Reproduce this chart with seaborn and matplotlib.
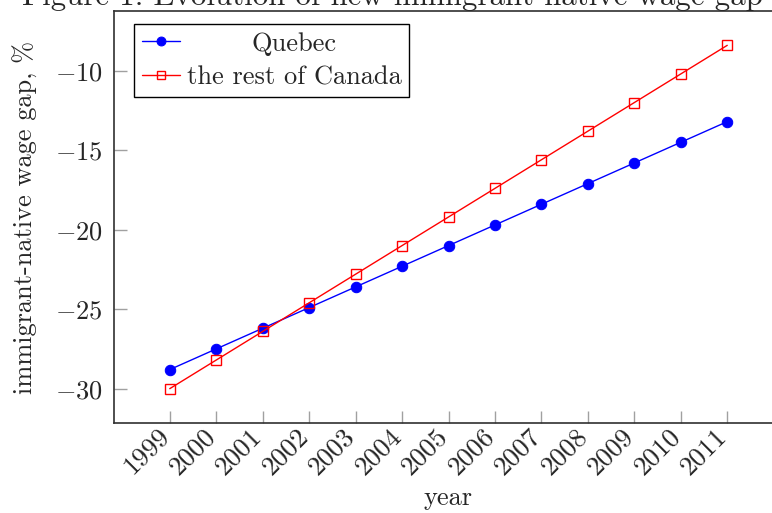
import matplotlib
matplotlib.use("Agg")
import matplotlib.pyplot as plt
import matplotlib.transforms as mtrans
import seaborn as sns
import pandas as pd

# Wage gap series, in percent
years = [1999, 2000, 2001, 2002, 2003, 2004, 2005, 2006, 2007, 2008, 2009, 2010, 2011]
quebec = [-28.8, -27.5, -26.2, -24.9, -23.6, -22.3, -21.0, -19.7, -18.4, -17.1, -15.8, -14.5, -13.2]
rest_of_canada = [-30.0, -28.2, -26.4, -24.6, -22.8, -21.0, -19.2, -17.4, -15.6, -13.8, -12.0, -10.2, -8.4]
series_names = ["Quebec", "the rest of Canada"]
y_ticks = [-30, -25, -20, -15, -10]
title_text = "Figure 1: Evolution of new immigrant-native wage gap"

sns.set_style("ticks")
plt.rcParams["font.family"] = ["cmr10"]
plt.rcParams["mathtext.fontset"] = "cm"
plt.rcParams["axes.unicode_minus"] = False

FS = 19
W, H = 772, 513
fig = plt.figure(figsize=(W / 100, H / 100), dpi=100)
left, right, bottom, top = 114 / W, 783 / W, (H - 423) / H, (H - 11) / H
ax = fig.add_axes([left, bottom, right - left, top - bottom])

df_q = pd.DataFrame({"year": years, "gap": quebec})
df_r = pd.DataFrame({"year": years, "gap": rest_of_canada})

sns.lineplot(data=df_q, x="year", y="gap", ax=ax, color="blue", lw=1.0,
             marker="o", markersize=7.5, markerfacecolor="blue",
             markeredgecolor="blue", label=series_names[0])
sns.lineplot(data=df_r, x="year", y="gap", ax=ax, color="red", lw=1.0,
             marker="s", markersize=7.5, markerfacecolor="none",
             markeredgecolor="red", markeredgewidth=1.0, label=series_names[1])

# pgfplots-style enlarged limits (10% of the data range)
span_x = years[-1] - years[0]
ax.set_xlim(years[0] - 0.1 * span_x, years[-1] + 0.1 * span_x)
lo = min(quebec + rest_of_canada)
hi = max(quebec + rest_of_canada)
ax.set_ylim(lo - 0.1 * (hi - lo), hi + 0.1 * (hi - lo))

ax.set_xticks(years)
ax.set_xticklabels([str(y) for y in years], rotation=45, ha="right",
                   va="center", rotation_mode="anchor", fontsize=FS + 0.5)
ax.set_yticks(y_ticks)
ax.set_yticklabels([f"${v}$" for v in y_ticks], fontsize=FS)

ax.tick_params(axis="both", direction="in", length=9, width=1.0,
               color="#a0a0a0")
ax.tick_params(axis="y", pad=8)
ax.tick_params(axis="x", pad=6.5)
for s in ax.spines.values():
    s.set_color("#303030")
    s.set_linewidth(1.2)

# nudge the rotated year labels slightly left of their ticks
nudge = mtrans.ScaledTranslation(-4.5 / 100, 0, fig.dpi_scale_trans)
for lbl in ax.get_xticklabels():
    lbl.set_transform(lbl.get_transform() + nudge)

ax.set_xlabel("year", fontsize=FS)
ax.xaxis.set_label_coords(0.5, -(486 - 423) / (423 - 11))
ax.set_ylabel("immigrant-native wage gap, %", fontsize=FS, labelpad=12)

fig.text(392 / W, (H - 5) / H, title_text, ha="center", va="baseline",
         fontsize=22.2)

leg = ax.legend(loc="upper left",
                bbox_to_anchor=((134 - 114) / (783 - 114), 1 - 13 / (423 - 11)),
                fontsize=FS, frameon=True, fancybox=False, framealpha=1,
                edgecolor="black", borderpad=0.3, handlelength=1.45,
                handletextpad=0.25, labelspacing=0.38, borderaxespad=0,
                markerscale=0.85)
leg.get_frame().set_linewidth(1.0)

# center each legend label within the label column
fig.canvas.draw()
renderer = fig.canvas.get_renderer()
widths = [t.get_window_extent(renderer).width for t in leg.get_texts()]
widest = max(widths)
for t, w in zip(leg.get_texts(), widths):
    t.set_position(((widest - w) / 2, 0))

fig.savefig("out.png", dpi=100)
